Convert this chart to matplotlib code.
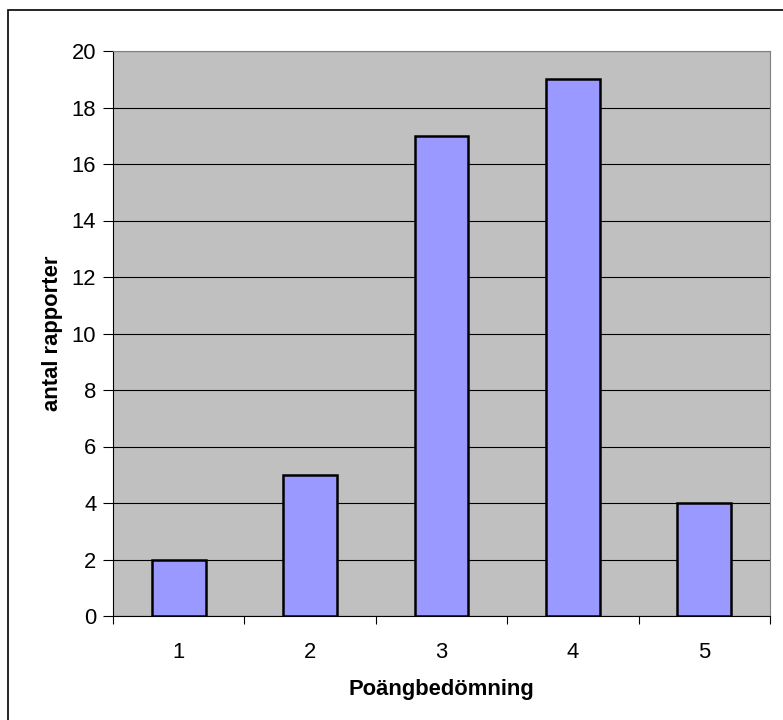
import matplotlib
matplotlib.use("Agg")
import matplotlib.pyplot as plt
from matplotlib.patches import Rectangle

categories = ["1", "2", "3", "4", "5"]
values = [2, 5, 17, 19, 4]
yticks = [0, 2, 4, 6, 8, 10, 12, 14, 16, 18, 20]

plt.rcParams['font.family'] = ['Liberation Sans', 'DejaVu Sans']
FS = 15.8

fig = plt.figure(figsize=(7.83, 7.2), dpi=100)
fig.patches.append(Rectangle((8/783, -0.2), 1.2, 1.2 - 10/720, transform=fig.transFigure,
                             fill=False, edgecolor='black', linewidth=1.2))
ax = fig.add_axes([113/783, 1-616/720, (770-113)/783, (616-51)/720])
ax.set_facecolor('#C0C0C0')
x = list(range(len(categories)))
ax.bar(x, values, width=0.41, color='#9999FF', edgecolor='black', linewidth=1.8, zorder=3)
ax.set_xlim(-0.5, len(categories) - 0.5)
ax.set_ylim(0, 20)
ax.set_yticks(yticks)
ax.set_yticklabels([str(t) for t in yticks], fontsize=FS)
ax.yaxis.grid(True, color='black', linewidth=0.8, zorder=1)
ax.set_axisbelow(True)
ax.set_xticks([i + 0.5 for i in range(-1, len(categories))])
ax.set_xticklabels([])
ax.set_xticks(x, minor=True)
ax.set_xticklabels(categories, minor=True, fontsize=FS)
ax.tick_params(axis='x', which='minor', length=0, pad=19)
ax.tick_params(axis='x', which='major', length=6, direction='out', color='black')
ax.tick_params(axis='y', length=7, direction='out', pad=5)
for s in ['top', 'right']:
    ax.spines[s].set_color('#808080')
for s in ['left', 'bottom']:
    ax.spines[s].set_color('black')
ax.set_xlabel('Poängbedömning', fontsize=FS, fontweight='bold', labelpad=11)
ax.set_ylabel('antal rapporter', fontsize=FS, fontweight='bold', labelpad=6)
fig.savefig('out.png', dpi=100)
